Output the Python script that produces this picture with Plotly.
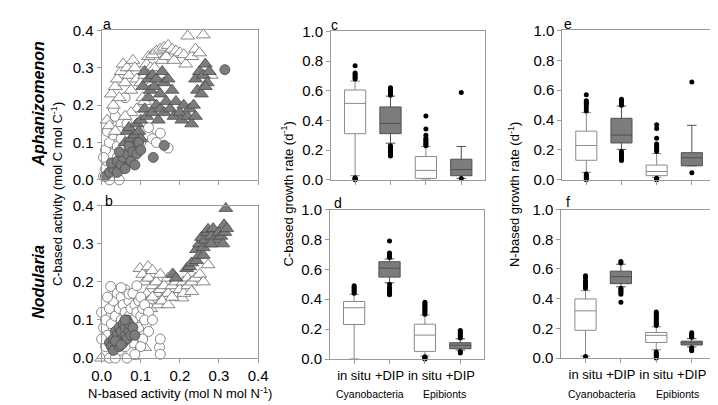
import plotly.graph_objects as go

W, H = 718, 405

# ---------------- scatter data (panel a: Aphanizomenon) ----------------
a_open_circ_x = [0.005,0.01,0.015,0.02,0.025,0.03,0.01,0.02,0.03,0.015,0.025,0.035,0.03,0.04,0.045,0.05,0.04,0.05,0.055,0.06,0.035,0.06,0.07,0.08,0.065,0.005,0.1,0.12,0.13,0.15,0.14,0.17,0.1,0.12,0.045,0.02]
a_open_circ_y = [0.01,0.03,0.05,0.02,0.07,0.04,0.08,0.1,0.12,0.13,0.15,0.17,0.19,0.09,0.13,0.11,0.06,0.03,0.08,0.05,0.02,0.22,0.1,0.06,0.15,0.06,0.13,0.12,0.11,0.125,0.1,0.085,0.1,0.14,0.0,0.0]
a_fill_circ_x = [0.01,0.02,0.03,0.025,0.04,0.04,0.05,0.055,0.06,0.065,0.07,0.075,0.08,0.085,0.09,0.095,0.1,0.132,0.16,0.045,0.315]
a_fill_circ_y = [0.01,0.02,0.03,0.045,0.02,0.05,0.04,0.06,0.03,0.07,0.09,0.05,0.075,0.04,0.07,0.1,0.08,0.06,0.092,0.075,0.295]
a_open_tri_x = [0.014,0.02,0.025,0.03,0.035,0.04,0.045,0.05,0.055,0.06,0.065,0.07,0.075,0.08,0.085,0.09,0.095,0.1,0.105,0.11,0.115,0.12,0.125,0.13,0.135,0.14,0.15,0.155,0.16,0.165,0.17,0.18,0.185,0.19,0.2,0.21,0.215,0.22,0.23,0.24,0.25,0.26,0.265,0.28,0.09,0.075,0.06,0.11,0.035,0.13,0.15]
a_open_tri_y = [0.16,0.145,0.23,0.2,0.25,0.27,0.22,0.29,0.31,0.26,0.3,0.28,0.24,0.32,0.3,0.27,0.19,0.26,0.22,0.28,0.31,0.33,0.3,0.335,0.3,0.345,0.35,0.32,0.355,0.33,0.36,0.35,0.32,0.345,0.34,0.335,0.31,0.385,0.33,0.35,0.34,0.388,0.3,0.28,0.19,0.18,0.17,0.21,0.13,0.26,0.28]
a_fill_tri_x = [0.06,0.065,0.07,0.075,0.08,0.085,0.09,0.095,0.1,0.1,0.105,0.11,0.11,0.115,0.12,0.12,0.125,0.13,0.13,0.135,0.14,0.14,0.145,0.15,0.15,0.155,0.16,0.16,0.165,0.17,0.175,0.18,0.185,0.19,0.2,0.205,0.21,0.22,0.225,0.23,0.235,0.24,0.24,0.245,0.25,0.255,0.26,0.265,0.27,0.275,0.265]
a_fill_tri_y = [0.1,0.13,0.14,0.11,0.09,0.12,0.15,0.13,0.16,0.11,0.25,0.29,0.19,0.17,0.22,0.27,0.24,0.28,0.18,0.25,0.2,0.27,0.16,0.23,0.19,0.29,0.26,0.18,0.21,0.27,0.19,0.24,0.17,0.21,0.18,0.16,0.2,0.17,0.19,0.15,0.2,0.17,0.27,0.24,0.29,0.23,0.28,0.31,0.26,0.29,0.25]

# ---------------- scatter data (panel b: Nodularia) ----------------
b_open_circ_x = [0.0,0.005,0.01,0.01,0.015,0.02,0.02,0.023,0.025,0.03,0.03,0.035,0.04,0.04,0.045,0.045,0.05,0.05,0.055,0.055,0.06,0.06,0.065,0.065,0.07,0.07,0.07,0.075,0.075,0.08,0.08,0.085,0.085,0.09,0.09,0.095,0.095,0.1,0.1,0.105,0.105,0.11,0.115,0.12,0.12,0.148,0.15,0.15,0.08,0.06,0.1,0.035,0.0,0.015,0.05,0.085,0.11,0.13]
b_open_circ_y = [0.12,0.08,0.1,0.03,0.06,0.0,0.13,0.188,0.09,0.15,0.04,0.11,0.07,0.17,0.13,0.02,0.1,0.16,0.14,0.05,0.12,0.18,0.09,0.0,0.15,0.168,0.11,0.13,0.02,0.1,0.17,0.14,0.06,0.12,0.19,0.15,0.08,0.11,0.16,0.13,0.05,0.14,0.09,0.12,0.07,0.028,0.05,0.01,0.04,0.03,0.03,0.0,0.05,0.16,0.185,0.01,0.1,0.1]
b_fill_circ_x = [0.02,0.025,0.03,0.03,0.035,0.04,0.04,0.045,0.045,0.05,0.05,0.055,0.055,0.06,0.06,0.065,0.065,0.07,0.07,0.075,0.08,0.085,0.035,0.05,0.06]
b_fill_circ_y = [0.04,0.03,0.05,0.02,0.07,0.04,0.06,0.08,0.03,0.05,0.07,0.09,0.04,0.06,0.08,0.05,0.1,0.07,0.09,0.06,0.08,0.06,0.045,0.035,0.1]
b_open_tri_x = [0.0,0.08,0.098,0.105,0.119,0.11,0.115,0.107,0.11,0.12,0.13,0.13,0.14,0.14,0.15,0.15,0.16,0.16,0.17,0.17,0.18,0.18,0.19,0.19,0.2,0.205,0.209,0.21,0.22,0.22,0.23,0.23,0.24,0.251,0.26,0.272,0.12,0.125,0.13,0.145,0.155,0.17,0.18]
b_open_tri_y = [0.0,0.005,0.235,0.22,0.24,0.2,0.168,0.12,0.028,0.21,0.23,0.19,0.2,0.17,0.22,0.18,0.19,0.16,0.21,0.17,0.22,0.19,0.2,0.16,0.18,0.158,0.2,0.17,0.21,0.19,0.2,0.175,0.21,0.22,0.2,0.245,0.15,0.13,0.16,0.14,0.15,0.14,0.16]
b_fill_tri_x = [0.183,0.19,0.2175,0.225,0.23,0.2425,0.2425,0.25,0.25,0.255,0.26,0.265,0.27,0.272,0.275,0.28,0.285,0.29,0.297,0.3,0.305,0.31,0.313,0.315,0.3175,0.32,0.26,0.28]
b_fill_tri_y = [0.22,0.21,0.235,0.24,0.25,0.256,0.285,0.27,0.3,0.317,0.29,0.31,0.33,0.338,0.3,0.32,0.34,0.31,0.31,0.33,0.32,0.3,0.35,0.33,0.393,0.34,0.27,0.3]

# ---------------- box plot data ----------------
groups = ["in situ", "+DIP", "in situ", "+DIP"]
group_names = ["Cyanobacteria", "Epibionts"]

c_q1 = [0.311, 0.311, 0.01, 0.028]
c_med = [0.515, 0.38, 0.064, 0.069]
c_q3 = [0.605, 0.491, 0.157, 0.139]
c_lo = [0.028, 0.247, 0.005, 0.01]
c_hi = [0.665, 0.564, 0.225, 0.225]
c_out = [[0.0,0.005,0.01,0.015,0.68,0.69,0.70,0.71,0.72,0.768],
         [0.57,0.58,0.59,0.6,0.61,0.62,0.16,0.17,0.18,0.19,0.2,0.21,0.22,0.23],
         [0.23,0.24,0.25,0.26,0.27,0.28,0.3,0.343,0.43],
         [0.588,0.01]]

d_q1 = [0.231, 0.548, 0.051, 0.069]
d_med = [0.343, 0.608, 0.16, 0.092]
d_q3 = [0.385, 0.651, 0.233, 0.109]
d_lo = [0.0, 0.51, 0.02, 0.06]
d_hi = [0.433, 0.67, 0.295, 0.135]
d_out = [[0.44,0.45,0.46,0.47,0.48,0.49],
         [0.68,0.69,0.7,0.71,0.79,0.43,0.44,0.45,0.46,0.47,0.48,0.5],
         [0.3,0.31,0.32,0.33,0.34,0.35,0.36,0.37,0.38,0.0,0.005,0.01,0.015],
         [0.14,0.15,0.16,0.17,0.18,0.19,0.04,0.05]]

e_q1 = [0.131, 0.247, 0.028, 0.094]
e_med = [0.23, 0.3, 0.056, 0.148]
e_q3 = [0.326, 0.412, 0.099, 0.182]
e_lo = [0.05, 0.204, 0.017, 0.094]
e_hi = [0.45, 0.494, 0.176, 0.365]
e_out = [[0.46,0.48,0.5,0.51,0.52,0.53,0.57,0.0,0.01,0.02,0.03,0.04],
         [0.5,0.51,0.52,0.53,0.54,0.13,0.14,0.15,0.16,0.17,0.18,0.19],
         [0.19,0.2,0.21,0.22,0.23,0.24,0.279,0.343,0.369,0.0,0.005,0.01],
         [0.654,0.047]]

f_q1 = [0.187, 0.501, 0.105, 0.088]
f_med = [0.318, 0.548, 0.153, 0.103]
f_q3 = [0.398, 0.585, 0.172, 0.114]
f_lo = [0.013, 0.48, 0.056, 0.075]
f_hi = [0.454, 0.632, 0.211, 0.131]
f_out = [[0.47,0.48,0.49,0.5,0.51,0.52,0.54,0.555,0.01],
         [0.64,0.65,0.43,0.44,0.45,0.46,0.47,0.376],
         [0.22,0.23,0.24,0.25,0.26,0.27,0.28,0.29,0.3,0.31,0.0,0.01,0.02,0.03,0.04],
         [0.14,0.15,0.16,0.17,0.05,0.06,0.07]]

# ---------------- figure ----------------
FONT = "Liberation Sans, Arial, sans-serif"
AXC = "#9a9a9a"
DARK = "#7c7c7c"
fig = go.Figure()


def xdom(l, r):
    return [l / W, r / W]


def ydom(t, b):
    return [1 - b / H, 1 - t / H]


def scat(xs, ys, sym, filled, ax):
    fig.add_trace(go.Scatter(
        x=xs, y=ys, mode="markers", xaxis="x" + ax, yaxis="y" + ax,
        cliponaxis=False, showlegend=False,
        marker=dict(symbol=sym, size=12 if sym == "triangle-up" else 10,
                    color=DARK if filled else "white",
                    line=dict(color="#4a4a4a" if filled else "#6a6a6a", width=0.8))))


# panel a
scat(a_open_circ_x, a_open_circ_y, "circle", False, "")
scat(a_open_tri_x, a_open_tri_y, "triangle-up", False, "")
scat(a_fill_tri_x, a_fill_tri_y, "triangle-up", True, "")
scat(a_fill_circ_x, a_fill_circ_y, "circle", True, "")
# panel b
scat(b_open_tri_x, b_open_tri_y, "triangle-up", False, "2")
scat(b_open_circ_x, b_open_circ_y, "circle", False, "2")
scat(b_fill_circ_x, b_fill_circ_y, "circle", True, "2")
scat(b_fill_tri_x, b_fill_tri_y, "triangle-up", True, "2")


def boxes(ax, q1, med, q3, lo, hi, outs):
    for i in range(4):
        filled = i % 2 == 1
        fig.add_trace(go.Box(
            x=[i + 1], q1=[q1[i]], median=[med[i]], q3=[q3[i]],
            lowerfence=[lo[i]], upperfence=[hi[i]],
            xaxis="x" + ax, yaxis="y" + ax, width=0.6, whiskerwidth=0.45,
            fillcolor=DARK if filled else "white",
            line=dict(color="#505050" if filled else "#8a8a8a", width=1),
            boxpoints=False, showlegend=False, hoverinfo="skip"))
        fig.add_trace(go.Scatter(
            x=[i + 1] * len(outs[i]), y=outs[i], mode="markers",
            xaxis="x" + ax, yaxis="y" + ax, showlegend=False, cliponaxis=False,
            marker=dict(color="black", size=5)))


boxes("3", c_q1, c_med, c_q3, c_lo, c_hi, c_out)
boxes("4", d_q1, d_med, d_q3, d_lo, d_hi, d_out)
boxes("5", e_q1, e_med, e_q3, e_lo, e_hi, e_out)
boxes("6", f_q1, f_med, f_q3, f_lo, f_hi, f_out)

tickfont = dict(family=FONT, size=15, color="black")
common = dict(showline=True, linecolor=AXC, linewidth=1, mirror=True, showgrid=False,
              zeroline=False, ticks="outside", ticklen=4, tickcolor=AXC, tickfont=tickfont)

layout = dict(
    width=W, height=H, margin=dict(l=0, r=0, t=0, b=0),
    paper_bgcolor="white", plot_bgcolor="white", showlegend=False,
    font=dict(family=FONT, color="black"),
    xaxis=dict(domain=xdom(86, 247), range=[0, 0.4], dtick=0.1, showticklabels=False, anchor="y", **common),
    yaxis=dict(domain=ydom(14, 170), range=[0, 0.4], dtick=0.1, tickformat=".1f", anchor="x", **common),
    xaxis2=dict(domain=xdom(86, 247), range=[0, 0.4], dtick=0.1, tickformat=".1f", anchor="y2", **common),
    yaxis2=dict(domain=ydom(197, 356), range=[0, 0.4], dtick=0.1, tickformat=".1f", anchor="x2", **common),
)
for ax, (l, r, t, b), lab in [("3", (322, 480, 15, 170), False), ("4", (321, 479, 201, 357), True),
                              ("5", (560, 717, 14, 170), False), ("6", (559, 717, 201, 356), True)]:
    xa = dict(domain=xdom(l, r), range=[0.32, 4.66], tickvals=[1, 2, 3, 4],
              anchor="y" + ax, tickangle=0, **common)
    if lab:
        xa["ticktext"] = groups
        xa["tickfont"] = dict(family=FONT, size=13, color="black")
    else:
        xa["showticklabels"] = False
    layout["xaxis" + ax] = xa
    layout["yaxis" + ax] = dict(domain=ydom(t, b), range=[0, 1.0], dtick=0.2, tickformat=".1f",
                                anchor="x" + ax, **common)
fig.update_layout(**layout)

ann = []


def text(x, y, s, size=14, angle=0, **kw):
    ann.append(dict(x=x / W, y=1 - y / H, xref="paper", yref="paper", text=s, showarrow=False,
                    textangle=angle, font=dict(family=FONT, size=size, color="black"),
                    xanchor="center", yanchor="middle", **kw))


for s, x, y in [("a", 92, 7), ("b", 94, 192), ("c", 326, 8), ("d", 329, 194), ("e", 566, 7), ("f", 566, 193)]:
    text(x, y, s, size=14)

text(40, 185, "C-based activity (mol C mol C<sup>-1</sup>)", size=13, angle=-90)
text(167, 392, "N-based activity (mol N mol N<sup>-1</sup>)", size=13)
text(277, 185, "C-based growth rate (d<sup>-1</sup>)", size=13, angle=-90)
text(510, 185, "N-based growth rate (d<sup>-1</sup>)", size=13, angle=-90)
text(21, 90, "<b><i>Aphanizomenon</i></b>", size=16, angle=-90)
text(21, 276, "<b><i>Nodularia</i></b>", size=16, angle=-90)
text(362, 394, group_names[0], size=10.5)
text(439, 394, group_names[1], size=10.5)
text(601, 394, group_names[0], size=10.5)
text(678, 394, group_names[1], size=10.5)
fig.update_layout(annotations=ann)

fig.write_html("out.html")
